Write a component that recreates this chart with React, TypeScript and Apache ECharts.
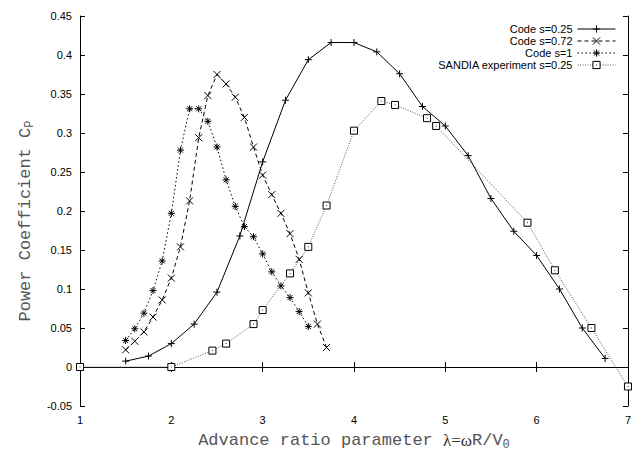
import React, { useEffect, useRef } from "react";
import * as echarts from "echarts";

const s025X = [1.5, 1.75, 2, 2.25, 2.5, 2.75, 3, 3.25, 3.5, 3.75, 4, 4.25, 4.5, 4.75, 5, 5.25, 5.5, 5.75, 6, 6.25, 6.5, 6.75];
const s025Y = [0.0075, 0.014, 0.03, 0.055, 0.096, 0.168, 0.263, 0.342, 0.394, 0.416, 0.416, 0.404, 0.376, 0.334, 0.309, 0.271, 0.216, 0.174, 0.143, 0.1, 0.05, 0.011];

const s072X = [1.5, 1.6, 1.7, 1.8, 1.9, 2.0, 2.1, 2.2, 2.3, 2.4, 2.5, 2.6, 2.7, 2.8, 2.9, 3.0, 3.1, 3.2, 3.3, 3.4, 3.5, 3.6, 3.7];
const s072Y = [0.022, 0.033, 0.045, 0.064, 0.086, 0.114, 0.154, 0.213, 0.294, 0.348, 0.375, 0.363, 0.346, 0.32, 0.282, 0.246, 0.221, 0.197, 0.171, 0.138, 0.095, 0.055, 0.025];

const s1X = [1.5, 1.6, 1.7, 1.8, 1.9, 2.0, 2.1, 2.2, 2.3, 2.4, 2.5, 2.6, 2.7, 2.8, 2.9, 3.0, 3.1, 3.2, 3.3, 3.4, 3.5];
const s1Y = [0.034, 0.049, 0.069, 0.098, 0.136, 0.197, 0.278, 0.331, 0.331, 0.315, 0.282, 0.24, 0.206, 0.18, 0.167, 0.145, 0.122, 0.104, 0.089, 0.071, 0.052];

const sandiaX = [1, 2, 2.45, 2.6, 2.9, 3.0, 3.3, 3.5, 3.7, 4.0, 4.3, 4.45, 4.8, 4.9, 5.9, 6.2, 6.6, 7.0];
const sandiaY = [0, 0, 0.021, 0.03, 0.055, 0.073, 0.12, 0.154, 0.207, 0.303, 0.341, 0.336, 0.319, 0.309, 0.185, 0.124, 0.05, -0.025];

const seriesNames = ["Code s=0.25", "Code s=0.72", "Code s=1", "SANDIA experiment s=0.25"];

const zip = (xs: number[], ys: number[]) => xs.map((x, i) => [x, ys[i]]);

const PLUS = "path://M0,3.5H7M3.5,0V7";
const CROSS = "path://M0.5,0.5L6.5,6.5M6.5,0.5L0.5,6.5";
const STAR = "path://M0,3.5H7M3.5,0V7M1,1L6,6M6,1L1,6";
const SQUARE = "path://M0,0H7V7H0ZM3.5,3.1V3.9";

export default function App() {
  const ref = useRef<HTMLDivElement>(null);
  useEffect(() => {
    if (!ref.current) return;
    const chart = echarts.init(ref.current, undefined, { renderer: "svg" });
    const mono = "'Liberation Mono', 'DejaVu Sans Mono', monospace";
    const sans = "'Liberation Sans', Arial, sans-serif";
    const nameColor = "#555";
    const fmt = (v: number) => String(parseFloat(v.toFixed(2)));
    const mkSeries = (name: string, data: number[][], symbol: string, lineType: any, lineColor: string, lineWidth: number, fill: string) => ({
      type: "line",
      name,
      data,
      symbol,
      symbolSize: 7,
      symbolKeepAspect: true,
      clip: false,
      lineStyle: { color: lineColor, width: lineWidth, type: lineType },
      itemStyle: { color: fill, borderColor: "#000", borderWidth: 1 },
      emphasis: { disabled: true },
    });
    chart.setOption({
      animation: false,
      backgroundColor: "#fff",
      grid: { left: 80, right: 4, top: 16, bottom: 40 },
      legend: {
        data: seriesNames,
        orient: "vertical",
        align: "right",
        right: 18,
        top: 23,
        itemWidth: 38,
        itemHeight: 9,
        itemGap: 0,
        padding: 0,
        selectedMode: false,
        lineStyle: { width: 1 },
        itemStyle: { borderWidth: 1 },
        textStyle: { fontFamily: sans, fontSize: 11, color: "#000", lineHeight: 12 },
      },
      xAxis: [
        {
          type: "value",
          min: 1,
          max: 7,
          interval: 1,
          name: "{a|Advance ratio parameter }{g|λ=ω}{a|R/V}{s|0}",
          nameLocation: "middle",
          nameGap: 23,
          nameTextStyle: {
            rich: {
              a: { fontFamily: mono, fontSize: 17, color: nameColor, lineHeight: 22, verticalAlign: "middle" },
              g: { fontFamily: "'Liberation Serif', serif", fontSize: 17, color: "#333", lineHeight: 22, verticalAlign: "middle" },
              s: { fontFamily: mono, fontSize: 12, color: nameColor, lineHeight: 22, verticalAlign: "bottom" },
            },
          },
          axisLine: { show: true, lineStyle: { color: "#000", width: 1 } },
          axisTick: { show: true, inside: true, length: 5, lineStyle: { color: "#000" } },
          axisLabel: { show: true, margin: 8, fontFamily: sans, fontSize: 11, color: "#000", formatter: fmt },
          splitLine: { show: false },
        },
        {
          type: "value",
          position: "top",
          min: 1,
          max: 7,
          interval: 1,
          axisLine: { show: true, lineStyle: { color: "#000", width: 1 } },
          axisTick: { show: true, inside: true, length: 5, lineStyle: { color: "#000" } },
          axisLabel: { show: false },
          splitLine: { show: false },
        },
      ],
      yAxis: [
        {
          type: "value",
          min: -0.05,
          max: 0.45,
          interval: 0.05,
          name: "{a|Power Coefficient C}{s|P}",
          nameLocation: "middle",
          nameGap: 44,
          nameTextStyle: {
            padding: [0, 20, 0, 0],
            rich: {
              a: { fontFamily: mono, fontSize: 17, color: nameColor, lineHeight: 22, verticalAlign: "middle" },
              s: { fontFamily: mono, fontSize: 12, color: nameColor, lineHeight: 22, verticalAlign: "bottom" },
            },
          },
          axisLine: { show: true, lineStyle: { color: "#000", width: 1 } },
          axisTick: { show: true, inside: true, length: 5, lineStyle: { color: "#000" } },
          axisLabel: { show: true, margin: 8, fontFamily: sans, fontSize: 11, color: "#000", formatter: fmt },
          splitLine: { show: false },
        },
        {
          type: "value",
          position: "right",
          min: -0.05,
          max: 0.45,
          interval: 0.05,
          axisLine: { show: true, lineStyle: { color: "#000", width: 1 } },
          axisTick: { show: true, inside: true, length: 5, lineStyle: { color: "#000" } },
          axisLabel: { show: false },
          splitLine: { show: false },
        },
      ],
      series: [
        mkSeries(seriesNames[0], zip(s025X, s025Y), PLUS, "solid", "#000", 1, "rgba(0,0,0,0)"),
        mkSeries(seriesNames[1], zip(s072X, s072Y), CROSS, [4, 3], "#000", 1, "rgba(0,0,0,0)"),
        mkSeries(seriesNames[2], zip(s1X, s1Y), STAR, [1.5, 2.5], "#000", 1, "rgba(0,0,0,0)"),
        mkSeries(seriesNames[3], zip(sandiaX, sandiaY), SQUARE, [1, 1.5], "#555", 1, "#fff"),
      ],
    });
    return () => chart.dispose();
  }, []);
  return <div ref={ref} style={{ position: "fixed", left: 0, top: 0, width: 634, height: 456 }} />;
}
